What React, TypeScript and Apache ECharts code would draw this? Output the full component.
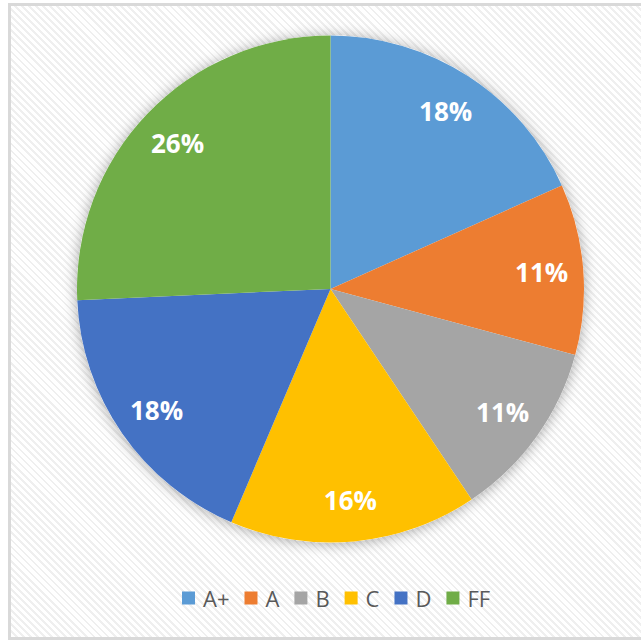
import React, { useEffect, useRef } from "react";
import * as echarts from "echarts";

const categories = ["A+", "A", "B", "C", "D", "FF"];
const shares = [18.3, 10.9, 11.4, 15.8, 17.9, 25.7];
const colors = ["#5B9BD5", "#ED7D31", "#A5A5A5", "#FFC000", "#4472C4", "#70AD47"];

export default function App() {
  const ref = useRef<HTMLDivElement>(null);
  useEffect(() => {
    if (!ref.current) return;
    const chart = echarts.init(ref.current, null, { renderer: "svg" });
    const data = categories.map((name, i) => ({ name, value: shares[i] }));
    chart.setOption({
      animation: false,
      backgroundColor: "transparent",
      color: colors,
      legend: {
        data: categories,
        left: 177,
        top: 582,
        itemWidth: 13,
        itemHeight: 13,
        itemGap: 15,
        icon: "rect",
        selectedMode: false,
        textStyle: {
          fontFamily: "Open Sans",
          fontSize: 22,
          color: "#595959",
          padding: [0, 0, 0, 3],
        },
      },
      series: [
        {
          type: "pie",
          name: "shadow",
          silent: true,
          z: 1,
          center: [330.5, 289],
          radius: 253.5,
          label: { show: false },
          labelLine: { show: false },
          emphasis: { disabled: true },
          itemStyle: {
            color: "#ffffff",
            shadowBlur: 14,
            shadowColor: "rgba(0,0,0,0.35)",
            shadowOffsetY: 1,
          },
          data: [{ name: "__bg", value: 1 }],
        },
        {
          type: "pie",
          name: "grades",
          z: 2,
          center: [330.5, 289],
          radius: 253.5,
          startAngle: 90,
          clockwise: true,
          avoidLabelOverlap: false,
          label: { show: false },
          labelLine: { show: false },
          emphasis: { disabled: true },
          itemStyle: { borderWidth: 0 },
          data,
        },
        {
          type: "pie",
          name: "labels",
          z: 3,
          silent: true,
          center: [330.5, 289],
          radius: [164, 253.5],
          startAngle: 90,
          clockwise: true,
          avoidLabelOverlap: false,
          percentPrecision: 0,
          emphasis: { disabled: true },
          itemStyle: { color: "rgba(0,0,0,0)" },
          labelLine: { show: false },
          label: {
            show: true,
            position: "inside",
            formatter: "{d}%",
            color: "#ffffff",
            fontFamily: "Open Sans",
            fontWeight: "bold",
            fontSize: 26,
          },
          data,
        },
      ],
    });
    return () => chart.dispose();
  }, []);

  return (
    <div
      style={{
        position: "absolute",
        left: 0,
        top: 0,
        width: 641,
        height: 641,
        overflow: "hidden",
        background: "#ffffff",
      }}
    >
      <div
        style={{
          position: "absolute",
          left: 8,
          top: 3,
          width: 700,
          height: 631,
          border: "3px solid #d9d9d9",
          background:
            "repeating-linear-gradient(45deg, #ffffff 0px, #ffffff 3px, #efefef 3px, #efefef 5px)",
        }}
      />
      <div
        ref={ref}
        style={{ position: "absolute", left: 0, top: 0, width: 641, height: 641 }}
      />
    </div>
  );
}
